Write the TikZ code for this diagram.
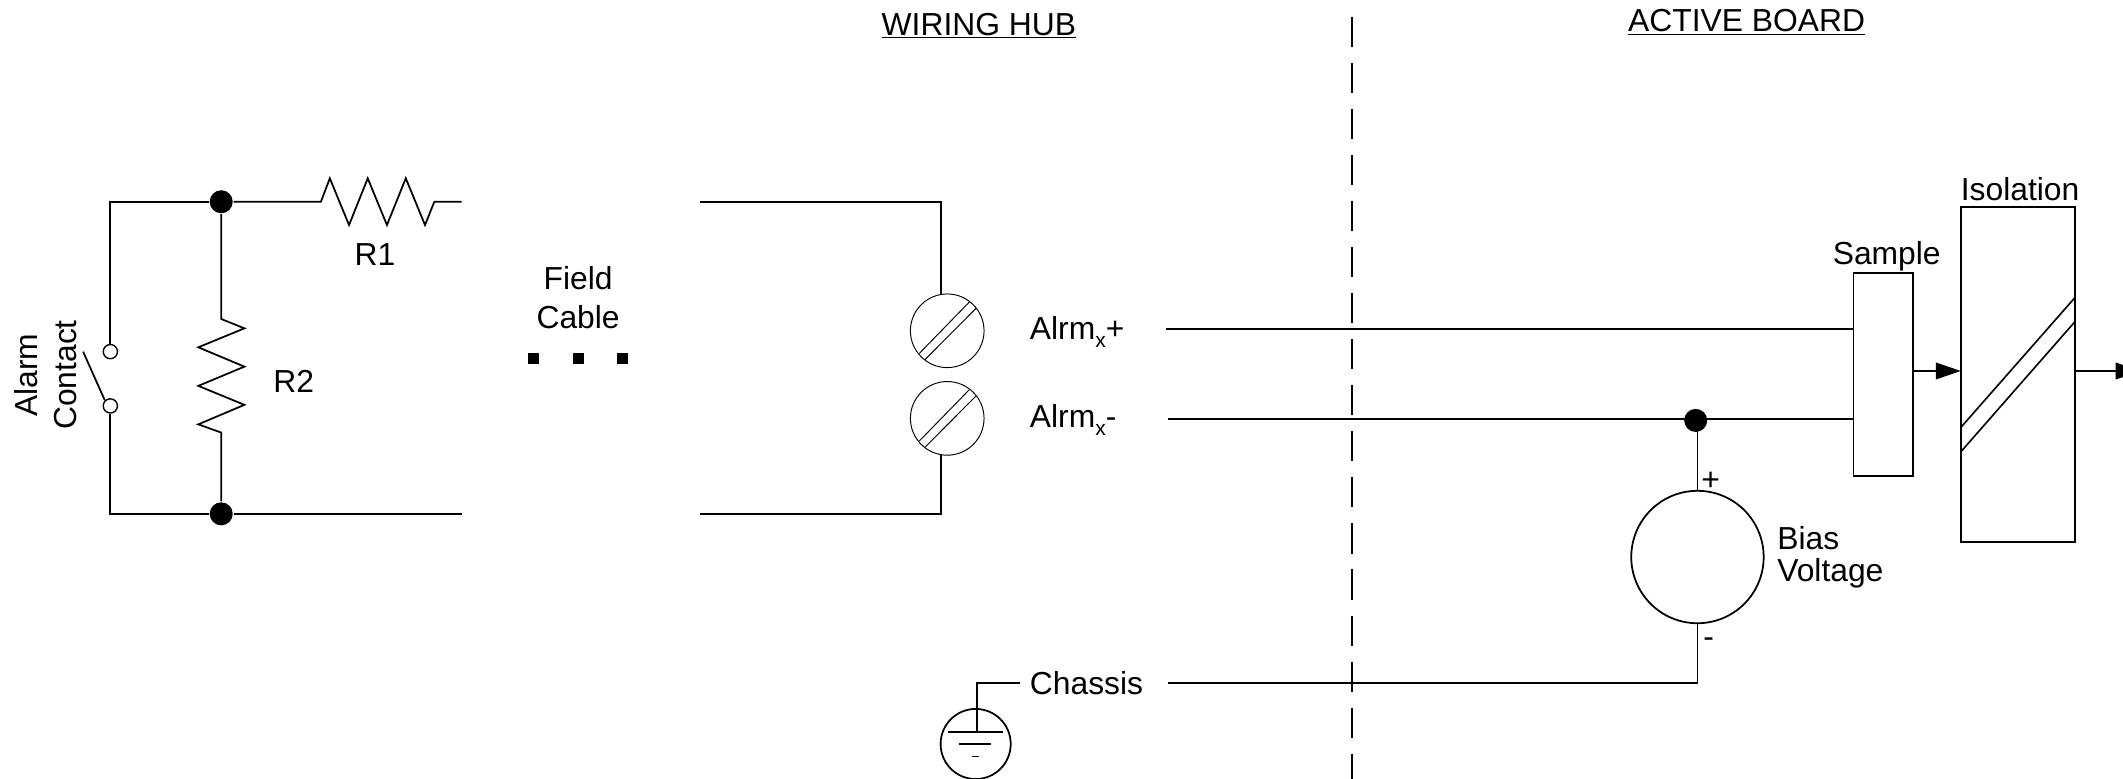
\documentclass[tikz,border=0pt]{standalone}
\usepackage{fontspec}
\setmainfont{Liberation Sans}
\usetikzlibrary{positioning, arrows.meta, calc}
\newcommand{\subx}{\raisebox{-5.5pt}{\fontsize{15.5}{15.5}\selectfont x}}

\begin{document}
\begin{tikzpicture}[
    x=1pt, y=-1pt,
    line width=1.3pt,
    % Text labels
    textlabel/.style={inner sep=0pt, anchor=base, font=\fontsize{23.5}{23.8}\selectfont},
    textleft/.style={textlabel, anchor=base west},
    % Circuit parts
    dot/.style={circle, fill=black, draw=none, inner sep=0pt, minimum size=17pt},
    contact/.style={circle, draw=black, fill=white, line width=1pt, inner sep=0pt, minimum size=10.5pt},
    screw/.style={circle, draw=black, line width=0.7pt, inner sep=0pt, minimum size=54.4pt},
    source/.style={circle, draw=black, inner sep=0pt, minimum size=97.8pt},
    groundring/.style={circle, draw=black, inner sep=0pt, minimum size=51.8pt},
    blockbox/.style={rectangle, draw=black, inner sep=0pt, outer sep=0pt},
    cabledot/.style={rectangle, fill=black, inner sep=0pt, outer sep=0pt, minimum size=8pt},
    slot/.style={line width=0.7pt},
    signal/.style={-{Triangle[length=18.5pt, width=12.3pt]}}
]
    \useasboundingbox (0,0) rectangle (1568,575);

    % Headings
    \node[textlabel] (hubtitle) at (723,26) {\underline{WIRING HUB}};
    \node[textlabel] (boardtitle) at (1290,23.5) {\underline{ACTIVE BOARD}};
    \draw[dash pattern=on 22.2pt off 11.8pt] (998.8,12.6) coordinate (dividertop) -- (998.8,575) coordinate (dividerend);

    % Field side
    \node[dot] (jtop) at (163.4,149) {};
    \node[dot] (jbot) at (163.4,379.5) {};
    \node[contact] (contactup) at (81.5,259.7) {};
    \node[contact] (contactdn) at (81.5,299.8) {};
    \coordinate (topend) at (341,149);
    \coordinate (botend) at (341,379.5);

    \draw (contactup) -- (contactup |- jtop) -- (jtop);
    \draw (contactdn) -- (contactdn |- jbot) -- (jbot);
    \draw (jbot) -- (botend);
    \coordinate (bladeend) at (61.4,259.7);
    \draw (bladeend) -- (contactdn.north west);

    % R1 and R2
    \draw (jtop) -- (237,149) -- (243.6,131.7) -- (257.8,166.2) -- (271.6,131.7) -- (285.8,166.2)
        -- (299.7,131.7) -- (313.9,166.2) -- (320.8,149) -- (topend);
    \draw (jtop) -- (163.4,235.6) -- (180.5,242.5) -- (146.5,256.5) -- (180.5,270.8) -- (146.5,285)
        -- (180.5,299) -- (146.5,313.4) -- (163.4,319.5) -- (jbot);

    \node[textlabel] (r1text) at (277,195.8) {R1};
    \node[textlabel] (r2text) at (217,290) {R2};
    \node[textlabel, rotate=90, align=center, anchor=center, font=\fontsize{23.5}{28.8}\selectfont] (alarmtext) at (33.5,277) {Alarm\\Contact};

    % Field cable
    \node[textlabel, align=center, anchor=center, font=\fontsize{23.5}{28.8}\selectfont] (cabletext) at (427,220) {Field\\Cable};
    \node[cabledot] (gap2) at (427,264.8) {};
    \node[cabledot, left=25pt of gap2] (gap1) {};
    \node[cabledot, right=25pt of gap2] (gap3) {};

    % Terminals
    \node[screw] (tplus) at (699.6,244.3) {};
    \node[screw] (tminus) at (699.6,309) {};
    \coordinate (hubtop) at (517,149.3);
    \coordinate (hubbot) at (517,379.7);
    \draw (hubtop) -- (695,149.3) -- (695,217.4);
    \draw (hubbot) -- (695,379.7) -- (695,336);
    \foreach \t in {tplus, tminus} {
        \draw[slot] ($(\t)+(-20.6,16.7)$) -- ($(\t)+(16.4,-21.3)$);
        \draw[slot] ($(\t)+(-16.4,21.3)$) -- ($(\t)+(21.3,-16.6)$);
    }
    \node[textleft] (plustext) at (760,251) {Alrm\subx+};
    \node[textleft] (minustext) at (760,316) {Alrm\subx-};
    \node[textleft] (chassistext) at (760,513) {Chassis};

    % Chassis ground
    \node[groundring] (gndring) at (720.6,549.5) {};
    \coordinate (gndwire) at (753,504.3);
    \draw (gndwire) -- (721.4,504.3) -- (721.4,540.7);
    \draw (700.5,540.7) -- (741,540.7);
    \draw (708.6,549.6) -- (732,549.6);
    \draw (717.7,558.8) -- (723.4,558.8);

    % Active board
    \node[blockbox, minimum width=43.8pt, minimum height=150.2pt] (sample) at (1390.8,276.6) {};
    \node[blockbox, minimum width=84.2pt, minimum height=247.8pt] (isolation) at (1490.3,276.6) {};
    \node[textlabel] (sampletext) at (1393.5,195) {Sample};
    \node[textlabel] (isotext) at (1492,147.8) {Isolation};
    \draw[line width=1.2pt] (isolation.west |- 0,315.7) -- (isolation.east |- 0,219.9);
    \draw[line width=1.2pt] (isolation.west |- 0,333.7) -- (isolation.east |- 0,237.7);

    \node[dot] (jbias) at (1252.4,310.5) {};
    \node[source] (bias) at (1253.7,411.4) {};
    \node[textlabel] (biasplus) at (1263.5,362) {+};
    \node[textlabel] (biasminus) at (1262,478) {-};
    \node[textlabel, align=left, anchor=west, font=\fontsize{23.5}{23.8}\selectfont] (biastext) at (1312,411.5) {Bias\\Voltage};

    \coordinate (plusstart) at (861,243);
    \coordinate (minusstart) at (863,309.4);
    \coordinate (chassisstart) at (863,504.3);
    \coordinate (outend) at (1581,274);
    \draw (plusstart) -- (sample.west |- plusstart);
    \draw (minusstart) -- (sample.west |- minusstart);
    \draw (bias.north |- jbias) -- (bias.north);
    \draw (chassisstart) -| (bias.south);
    \draw[signal] (sample.east |- 0,274) -- (isolation.west |- 0,274);
    \draw[signal] (isolation.east |- outend) -- (outend);

\end{tikzpicture}
\end{document}
